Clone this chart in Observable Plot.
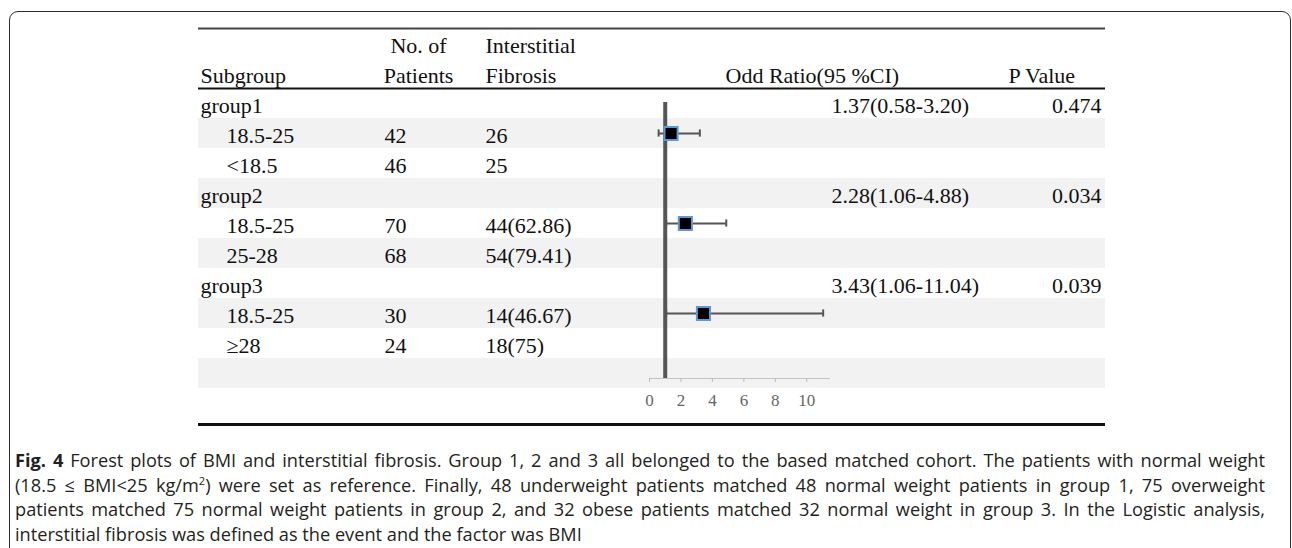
<!DOCTYPE html>
<html>
<head>
<meta charset="utf-8">
<script src="https://cdn.jsdelivr.net/npm/d3@7"></script>
<script src="https://cdn.jsdelivr.net/npm/@observablehq/plot@0.6"></script>
<style>
  html, body { margin: 0; padding: 0; background: #fff; }
  #page { position: relative; width: 1292px; height: 548px; overflow: hidden; }
  #chart { position: absolute; left: 0; top: 0; }
  #box {
    position: absolute; left: 9px; top: 11px; width: 1282px; height: 600px;
    box-sizing: border-box; border: 1.5px solid #2b2b2b; border-radius: 9px;
    pointer-events: none;
  }
  #caption {
    position: absolute; left: 15px; top: 448px; width: 1250px;
    font-family: "Open Sans", sans-serif; font-size: 18.2px; line-height: 24.6px; color: #231f20;
  }
  #caption .line { text-align: justify; text-align-last: justify; white-space: nowrap; }
  #caption .line.last { text-align-last: left; }
  #caption b { font-weight: 700; }
  #caption sup { font-size: 11px; line-height: 0; }
</style>
</head>
<body>
<div id="page">
  <div id="chart"></div>
  <div id="box"></div>
  <div id="caption">
    <div class="line"><b>Fig. 4</b> Forest plots of BMI and interstitial fibrosis. Group 1, 2 and 3 all belonged to the based matched cohort. The patients with normal weight</div>
    <div class="line">(18.5 ≤ BMI&lt;25 kg/m<sup>2</sup>) were set as reference. Finally, 48 underweight patients matched 48 normal weight patients in group 1, 75 overweight</div>
    <div class="line">patients matched 75 normal weight patients in group 2, and 32 obese patients matched 32 normal weight in group 3. In the Logistic analysis,</div>
    <div class="line last">interstitial fibrosis was defined as the event and the factor was BMI</div>
  </div>
</div>
<script>
// ---- table content ----
const groups = ["group1", "group2", "group3"];
const subgroupLabels = [["18.5-25", "<18.5"], ["18.5-25", "25-28"], ["18.5-25", "≥28"]];
const patientCounts = [[42, 46], [70, 68], [30, 24]];
const fibrosisCounts = [["26", "25"], ["44(62.86)", "54(79.41)"], ["14(46.67)", "18(75)"]];
const oddsRatio = [1.37, 2.28, 3.43];
const ciLow = [0.58, 1.06, 1.06];
const ciHigh = [3.20, 4.88, 11.04];
const pValues = ["0.474", "0.034", "0.039"];
const xTicks = [0, 2, 4, 6, 8, 10];
const xMax = 11.5;

const headerSubgroup = "Subgroup";
const headerPatients = ["No. of", "Patients"];
const headerFibrosis = ["Interstitial", "Fibrosis"];
const headerOR = "Odd Ratio(95 %CI)";
const headerP = "P Value";

// ---- build row table (one row per line of the table) ----
const rows = [];
groups.forEach((g, i) => {
  rows.push({kind: "group", label: g, g: i,
             orText: `${oddsRatio[i].toFixed(2)}(${ciLow[i].toFixed(2)}-${ciHigh[i].toFixed(2)})`,
             p: pValues[i]});
  subgroupLabels[i].forEach((s, j) => {
    rows.push({kind: "sub", label: s, g: i, j,
               n: String(patientCounts[i][j]), fib: fibrosisCounts[i][j]});
  });
});
rows.push({kind: "blank"});
rows.forEach((r, k) => (r.row = k));

const nRows = rows.length;                       // 10
const shaded = rows.filter(r => r.row % 2 === 1);
const groupRows = rows.filter(r => r.kind === "group");
const subRows = rows.filter(r => r.kind === "sub");
// the estimate is drawn on the reference (first) subgroup row of each group
const estimates = groups.map((g, i) => ({
  row: rows.find(r => r.kind === "sub" && r.g === i && r.j === 0).row,
  or: oddsRatio[i], lo: ciLow[i], hi: ciHigh[i]
}));

// layout
const rowH = 30, firstRowCenter = 103;
const axisRow = nRows - 1 + 1 / 6;
const textStyle = {fontSize: 22, fill: "#111", frameAnchor: "left", lineAnchor: "middle", dy: 2};

const chart = Plot.plot({
  width: 1292,
  height: 440,
  marginLeft: 198,
  marginRight: 187,
  marginTop: 102,
  marginBottom: 62,
  style: {background: "transparent", fontFamily: "'Liberation Serif', 'Times New Roman', serif", fontSize: "22px"},
  x: {domain: [0, xMax], range: [649, 649 + xMax * 15.73], label: null},
  y: {domain: [0, nRows - 1], range: [firstRowCenter, firstRowCenter + (nRows - 1) * rowH], axis: null},
  marks: [
    // zebra shading
    Plot.rect(shaded, {y1: d => d.row - 0.5, y2: d => d.row + 0.5, fill: "#f2f2f2"}),
    // table rules
    Plot.ruleY([-2.5], {stroke: "#444", strokeWidth: 2}),
    Plot.ruleY([-0.5], {stroke: "#111", strokeWidth: 2}),
    Plot.ruleY([nRows + 0.7], {stroke: "#111", strokeWidth: 3}),
    // forest axis
    Plot.ruleY([axisRow], {x1: 0, x2: xMax, stroke: "#c4c4c4", strokeWidth: 1.2}),
    Plot.axisX({ticks: xTicks, tickSize: 4, tickPadding: 11, stroke: "#bbb", fill: "#666",
                fontSize: 17, label: null, anchor: "bottom"}),
    // line of no effect
    Plot.ruleX([1], {stroke: "#555", strokeWidth: 4}),
    // confidence intervals
    Plot.ruleY(estimates, {y: "row", x1: "lo", x2: "hi", stroke: "#555", strokeWidth: 2}),
    Plot.ruleX(estimates, {x: "lo", y1: d => d.row - 0.12, y2: d => d.row + 0.12, stroke: "#555", strokeWidth: 2}),
    Plot.ruleX(estimates, {x: "hi", y1: d => d.row - 0.12, y2: d => d.row + 0.12, stroke: "#555", strokeWidth: 2}),
    // point estimates
    Plot.dot(estimates, {x: "or", y: "row", symbol: "square", r: 7.4, fill: "#000", stroke: "#5b9bd5", strokeWidth: 2}),
    // header
    Plot.text([headerSubgroup], {...textStyle, y: -1, text: d => d, dx: 2, textAnchor: "start"}),
    Plot.text(headerPatients, {...textStyle, y: (d, i) => i - 2, text: d => d, dx: 220, textAnchor: "middle"}),
    Plot.text(headerFibrosis, {...textStyle, y: (d, i) => i - 2, text: d => d, dx: 287, textAnchor: "start"}),
    Plot.text([headerOR], {...textStyle, y: -1, text: d => d, dx: 527, textAnchor: "start"}),
    Plot.text([headerP], {...textStyle, y: -1, text: d => d, dx: 810, textAnchor: "start"}),
    // body
    Plot.text(groupRows, {...textStyle, y: "row", text: "label", dx: 2, textAnchor: "start"}),
    Plot.text(subRows, {...textStyle, y: "row", text: "label", dx: 28, textAnchor: "start"}),
    Plot.text(subRows, {...textStyle, y: "row", text: "n", dx: 186, textAnchor: "start"}),
    Plot.text(subRows, {...textStyle, y: "row", text: "fib", dx: 287, textAnchor: "start"}),
    Plot.text(groupRows, {...textStyle, y: "row", text: "orText", dx: 633, textAnchor: "start"}),
    Plot.text(groupRows, {...textStyle, y: "row", text: "p", frameAnchor: "right", dx: -4, textAnchor: "end"})
  ]
});

document.getElementById("chart").appendChild(chart);
</script>
</body>
</html>
